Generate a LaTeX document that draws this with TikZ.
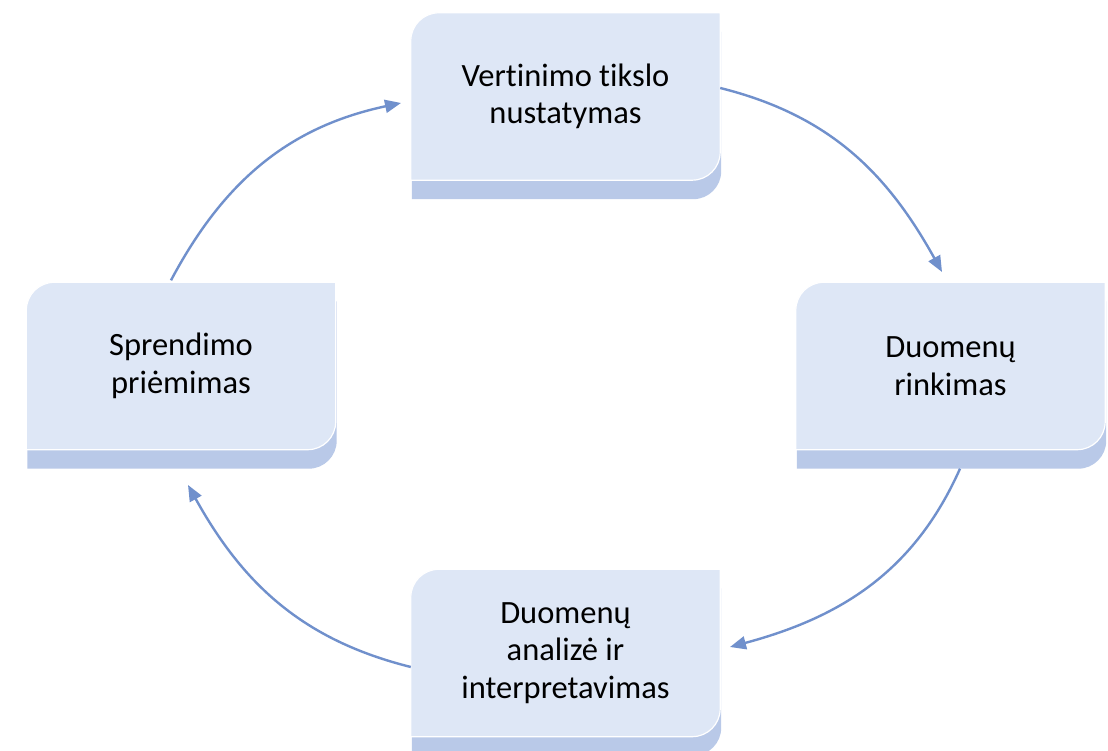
\documentclass[tikz,border=0pt]{standalone}
\usepackage{fontspec}
\setmainfont{Carlito}[Ligatures={NoCommon}]
\usetikzlibrary{arrows.meta,backgrounds}
\definecolor{cardface}{HTML}{DEE7F6}
\definecolor{cardshade}{HTML}{B9C9E8}
\definecolor{arrowcol}{HTML}{7090CC}
\tikzset{
  cardpath/.style n args={3}{insert path={
    ([xshift=#2,yshift=#3]#1.south west) --
    ([xshift=#2,yshift={#3-28pt}]#1.north west)
      arc[start angle=180,end angle=90,radius=28pt] --
    ([xshift=#2,yshift=#3]#1.north east) --
    ([xshift=#2,yshift={#3+28pt}]#1.south east)
      arc[start angle=0,end angle=-90,radius=28pt] -- cycle}},
  cardtext/.style={minimum width=309pt, minimum height=167pt, inner sep=0pt,
    align=center, font=\fontsize{32.5}{37.5}\selectfont, text=black},
  flow/.style={draw=arrowcol, line width=2.4pt,
    -{Triangle[length=16pt,width=13pt]}},
}
\begin{document}
\begin{tikzpicture}[x=1pt,y=1pt]
\useasboundingbox (0,0) rectangle (1108,751);

\node[cardtext] (T) at (565.5,654.5) {Vertinimo tikslo\\nustatymas};
\node[cardtext] (R) at (950.5,385) {Duomenų\\rinkimas};
\node[cardtext] (B) at (565.5,98) {Duomenų\\analizė ir\\interpretavimas};
\node[cardtext] (L) at (181,385) {Sprendimo\\priėmimas};

\begin{scope}[on background layer]
  \fill[white] (0,0) rectangle (1108,751);
  \foreach \n in {T,R,B,L}{
    \fill[cardshade, cardpath={\n}{1pt}{-19pt}];
    \filldraw[fill=cardface, draw=white, line width=1.2pt, cardpath={\n}{0pt}{0pt}];
  }
\end{scope}

\coordinate (e1) at (401,648);
\coordinate (e2) at (942,479);
\coordinate (e3) at (730,104);
\coordinate (e4) at (188,266);

\draw[flow] ([xshift=-10pt,yshift=2pt]L.north) to[out=62,in=192] (e1);
\draw[flow] ([yshift=8.5pt]T.east) to[out=-14,in=119] (e2);
\draw[flow] ([xshift=9.5pt,yshift=-19pt]R.south) to[out=246,in=15] (e3);
\draw[flow] ([yshift=-14pt]B.west) to[out=166,in=299] (e4);
\end{tikzpicture}
\end{document}
